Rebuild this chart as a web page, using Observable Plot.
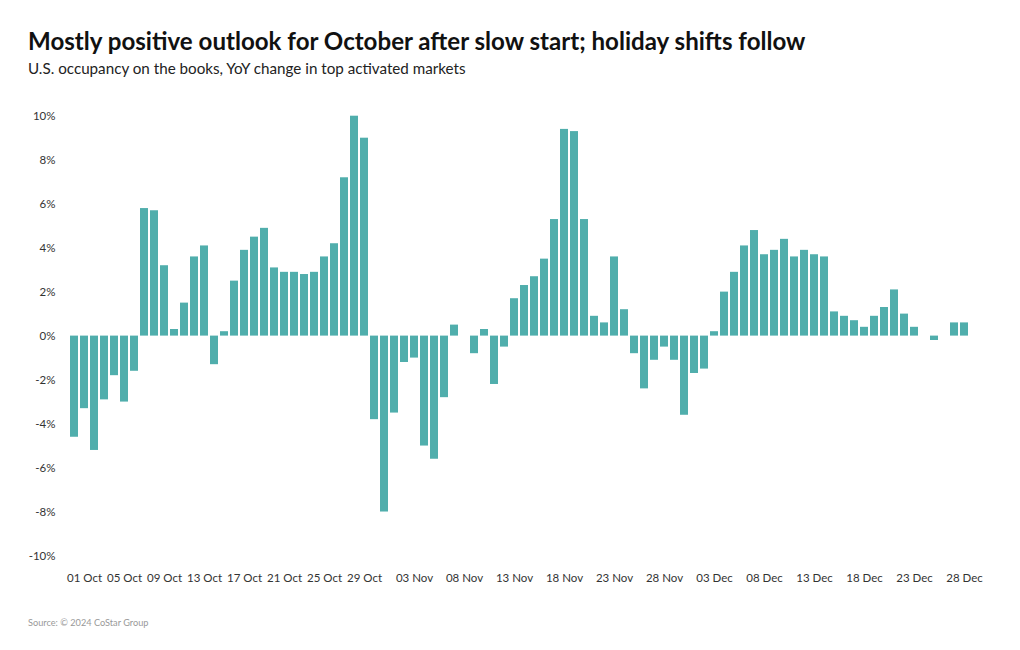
<!DOCTYPE html>
<html>
<head>
<meta charset="utf-8">
<script src="https://cdn.jsdelivr.net/npm/d3@7"></script>
<script src="https://cdn.jsdelivr.net/npm/@observablehq/plot@0.6"></script>
<style>
  html, body { margin: 0; padding: 0; background: #fff; }
  body { width: 1020px; height: 650px; position: relative; overflow: hidden; font-family: Lato, "Noto Sans", sans-serif; }
  #title { position: absolute; left: 28px; top: 29px; font-size: 24.1px; font-weight: 700; color: #111; white-space: nowrap; line-height: 1; }
  #subtitle { position: absolute; left: 28px; top: 61px; font-size: 15.2px; color: #222; white-space: nowrap; line-height: 1; }
  #chart { position: absolute; left: 0; top: 90px; }
  #source { position: absolute; left: 28px; top: 618px; font-size: 9.2px; color: #999; white-space: nowrap; line-height: 1; }
</style>
</head>
<body>
<div id="title">Mostly positive outlook for October after slow start; holiday shifts follow</div>
<div id="subtitle">U.S. occupancy on the books, YoY change in top activated markets</div>
<div id="chart"></div>
<div id="source">Source: © 2024 CoStar Group</div>
<script>
const days = [
  "30 Sep",
  "01 Oct","02 Oct","03 Oct","04 Oct","05 Oct","06 Oct","07 Oct","08 Oct","09 Oct","10 Oct",
  "11 Oct","12 Oct","13 Oct","14 Oct","15 Oct","16 Oct","17 Oct","18 Oct","19 Oct","20 Oct",
  "21 Oct","22 Oct","23 Oct","24 Oct","25 Oct","26 Oct","27 Oct","28 Oct","29 Oct","30 Oct","31 Oct",
  "01 Nov","02 Nov","03 Nov","04 Nov","05 Nov","06 Nov","07 Nov","08 Nov","09 Nov","10 Nov",
  "11 Nov","12 Nov","13 Nov","14 Nov","15 Nov","16 Nov","17 Nov","18 Nov","19 Nov","20 Nov",
  "21 Nov","22 Nov","23 Nov","24 Nov","25 Nov","26 Nov","27 Nov","28 Nov","29 Nov","30 Nov",
  "01 Dec","02 Dec","03 Dec","04 Dec","05 Dec","06 Dec","07 Dec","08 Dec","09 Dec","10 Dec",
  "11 Dec","12 Dec","13 Dec","14 Dec","15 Dec","16 Dec","17 Dec","18 Dec","19 Dec","20 Dec",
  "21 Dec","22 Dec","23 Dec","24 Dec","25 Dec","26 Dec","27 Dec","28 Dec"
];

const values = [
  -4.6,
  -3.3, -5.2, -2.9, -1.8, -3.0, -1.6, 5.8, 5.7, 3.2, 0.3,
  1.5, 3.6, 4.1, -1.3, 0.2, 2.5, 3.9, 4.5, 4.9, 3.1,
  2.9, 2.9, 2.8, 2.9, 3.6, 4.2, 7.2, 10.0, 9.0, -3.8, -8.0,
  -3.5, -1.2, -1.0, -5.0, -5.6, -2.8, 0.5, null, -0.8, 0.3,
  -2.2, -0.5, 1.7, 2.3, 2.7, 3.5, 5.3, 9.4, 9.3, 5.3,
  0.9, 0.6, 3.6, 1.2, -0.8, -2.4, -1.1, -0.5, -1.1, -3.6,
  -1.7, -1.5, 0.2, 2.0, 2.9, 4.1, 4.8, 3.7, 3.9, 4.4,
  3.6, 3.9, 3.7, 3.6, 1.1, 0.9, 0.7, 0.4, 0.9, 1.3,
  2.1, 1.0, 0.4, null, -0.2, null, 0.6, 0.6
];

const xTickLabels = ["01 Oct","05 Oct","09 Oct","13 Oct","17 Oct","21 Oct","25 Oct","29 Oct",
  "03 Nov","08 Nov","13 Nov","18 Nov","23 Nov","28 Nov",
  "03 Dec","08 Dec","13 Dec","18 Dec","23 Dec","28 Dec"];

const yTicks = [-10, -8, -6, -4, -2, 0, 2, 4, 6, 8, 10];

const data = days.map((d, i) => ({day: d, value: values[i]})).filter(d => d.value != null);

const chart = Plot.plot({
  width: 1020,
  height: 510,
  marginLeft: 65,
  marginRight: 47,
  marginTop: 25.7,
  marginBottom: 44.5,
  style: {fontFamily: "Lato, 'Noto Sans', sans-serif", fontSize: "11.5px", color: "#333", background: "#fff"},
  x: {type: "band", domain: days, paddingInner: 0.2, paddingOuter: 0.1, ticks: xTickLabels, tickSize: 0, tickPadding: 18, label: null},
  y: {domain: [-10, 10], ticks: yTicks, tickFormat: d => `${d}%`, tickSize: 0, tickPadding: 10, label: null},
  marks: [
    Plot.barY(data, {x: "day", y: "value", fill: "#50aeac"})
  ]
});
document.getElementById("chart").appendChild(chart);
</script>
</body>
</html>
